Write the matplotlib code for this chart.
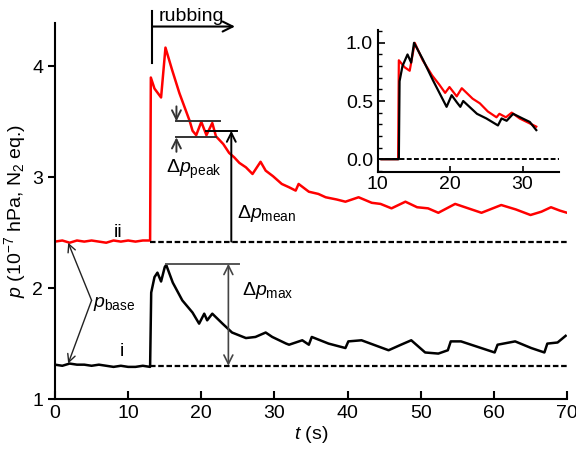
import matplotlib

matplotlib.use("Agg")
import matplotlib.pyplot as plt
from matplotlib.ticker import MultipleLocator

plt.rcParams["font.family"] = ["Liberation Sans", "DejaVu Sans"]
plt.rcParams["mathtext.fontset"] = "custom"
plt.rcParams["mathtext.rm"] = "Liberation Sans"
plt.rcParams["mathtext.it"] = "Liberation Sans:italic"

# curve ii (red), main panel
t_ii = [0, 1, 2, 3, 4, 5, 6, 7, 8, 9, 10, 11, 12, 13.0,
        13.1, 13.6, 14.5, 15.1, 16.0, 17.0, 18.4, 18.8, 19.3, 20.0, 20.7,
        21.5, 22.0, 23.0, 23.8, 24.5, 25.2, 26.1, 27.0, 28.1, 28.8, 29.8,
        31.0, 32.0, 32.9, 33.3, 34.7, 36.0, 37.0, 38.5, 39.7, 41.5, 43.3,
        44.5, 46.0, 47.9, 49.5, 51.0, 52.4, 54.7, 56.5, 58.3, 61.0, 63.0,
        65.0, 66.5, 67.8, 69.0, 70.0]
p_ii = [2.42, 2.43, 2.41, 2.43, 2.42, 2.43, 2.42, 2.41, 2.43, 2.42, 2.43, 2.42, 2.43, 2.43,
        3.90, 3.80, 3.72, 4.17, 3.97, 3.76, 3.51, 3.42, 3.38, 3.50, 3.38,
        3.49, 3.37, 3.30, 3.22, 3.18, 3.13, 3.09, 3.03, 3.14, 3.06, 3.01,
        2.94, 2.91, 2.88, 2.94, 2.87, 2.85, 2.82, 2.80, 2.78, 2.82, 2.77,
        2.76, 2.72, 2.78, 2.73, 2.72, 2.68, 2.76, 2.72, 2.68, 2.75, 2.71,
        2.66, 2.69, 2.73, 2.70, 2.68]

# curve i (black), main panel
t_i = [0, 1, 2, 3, 4, 5, 6, 7, 8, 9, 10, 11, 12, 13.0,
       13.15, 13.6, 14.0, 14.5, 15.0, 15.2, 16.1, 17.4, 18.8, 19.7, 20.4,
       20.8, 21.5, 22.9, 24.2, 26.1, 27.4, 28.8, 29.7, 31.6, 32.0, 33.8,
       34.7, 35.1, 37.4, 39.7, 40.1, 41.9, 45.6, 47.3, 48.7, 50.6, 52.4,
       53.7, 54.1, 55.5, 57.8, 60.1, 60.5, 62.9, 65.1, 66.9, 67.3, 68.7, 69.8]
p_i = [1.31, 1.30, 1.32, 1.31, 1.31, 1.30, 1.31, 1.30, 1.29, 1.30, 1.29, 1.29, 1.30, 1.29,
       1.96, 2.10, 2.14, 2.06, 2.19, 2.21, 2.05, 1.89, 1.78, 1.68, 1.77,
       1.71, 1.77, 1.68, 1.60, 1.55, 1.56, 1.60, 1.56, 1.50, 1.49, 1.53,
       1.49, 1.56, 1.50, 1.46, 1.52, 1.53, 1.44, 1.49, 1.53, 1.42, 1.41,
       1.44, 1.52, 1.52, 1.47, 1.42, 1.49, 1.52, 1.46, 1.42, 1.50, 1.51, 1.57]

base_ii = 2.42
base_i = 1.30

# normalised curves, inset
tn_ii = [10.5, 12.8, 12.9, 13.7, 14.4, 15.1, 16.2, 17.5, 18.5, 19.3, 19.9, 20.9,
         21.6, 23.1, 24.1, 25.2, 26.4, 26.8, 27.7, 28.5, 29.6, 31.9]
rn_ii = [0.0, 0.0, 0.85, 0.79, 0.76, 1.0, 0.85, 0.72, 0.64, 0.57, 0.62, 0.54,
         0.61, 0.52, 0.48, 0.41, 0.36, 0.39, 0.36, 0.40, 0.35, 0.28]
tn_i = [10.5, 12.9, 13.0, 13.4, 14.1, 14.6, 15.0, 16.2, 17.6, 19.5, 20.2, 20.9,
        21.4, 21.8, 23.7, 25.0, 26.6, 27.1, 27.8, 28.7, 30.0, 31.0, 31.9]
rn_i = [0.0, 0.0, 0.67, 0.80, 0.90, 0.83, 1.0, 0.86, 0.68, 0.45, 0.55, 0.49,
        0.45, 0.50, 0.39, 0.35, 0.29, 0.35, 0.33, 0.39, 0.35, 0.32, 0.25]

fs = 14

fig = plt.figure(figsize=(5.76, 4.55), dpi=100)
ax = fig.add_axes([0.0955, 0.123, 0.889, 0.826])

ax.plot(t_ii, p_ii, color="#ff0000", lw=1.8)
ax.plot(t_i, p_i, color="black", lw=1.8)
ax.plot([13, 70], [base_ii, base_ii], color="black", lw=1.6, ls=(0, (2.5, 1.2)))
ax.plot([13, 70], [base_i, base_i], color="black", lw=1.6, ls=(0, (2.5, 1.2)))

ax.set_xlim(0, 70)
ax.set_ylim(1, 4.39)
ax.set_xticks([0, 10, 20, 30, 40, 50, 60, 70])
ax.set_yticks([1, 2, 3, 4])
for s in ["top", "right"]:
    ax.spines[s].set_visible(False)
for s in ["left", "bottom"]:
    ax.spines[s].set_linewidth(1.5)
ax.tick_params(axis="x", direction="in", length=6, width=1.5, labelsize=fs, pad=4)
ax.tick_params(axis="y", direction="out", length=5, width=1.5, labelsize=fs)
ax.set_xlabel(r"$t$ (s)", fontsize=fs, labelpad=2)
ax.set_ylabel(r"$p$ (10$^{-7}$ hPa, N$_2$ eq.)", fontsize=fs, labelpad=3)

# rubbing marker
ax.plot([13.3, 13.3], [4.03, 4.50], color="black", lw=1.5, clip_on=False)
ax.annotate("", xy=(24.6, 4.36), xytext=(13.3, 4.36), annotation_clip=False,
            arrowprops=dict(arrowstyle="->", lw=1.5, color="black",
                            shrinkA=0, shrinkB=0, mutation_scale=18))
ax.text(18.7, 4.45, "rubbing", fontsize=fs, ha="center", va="center", clip_on=False)

# delta p peak
gc = "#333333"
ax.plot([16.6, 22.5], [3.505, 3.505], color=gc, lw=1.4)
ax.plot([16.6, 22.0], [3.36, 3.36], color=gc, lw=1.4)
arr = dict(arrowstyle="->", lw=1.4, color=gc, shrinkA=0, shrinkB=0, mutation_scale=16)
ax.annotate("", xy=(16.6, 3.505), xytext=(16.6, 3.64), arrowprops=arr)
ax.annotate("", xy=(16.6, 3.36), xytext=(16.6, 3.23), arrowprops=arr)
ax.text(15.2, 3.07, r"$\Delta p_{\rm peak}$", fontsize=fs, va="center")

# delta p mean
ax.plot([20.7, 24.9], [3.42, 3.42], color="black", lw=1.4)
ax.annotate("", xy=(24.1, 3.42), xytext=(24.1, base_ii),
            arrowprops=dict(arrowstyle="->", lw=1.4, color="black",
                            shrinkA=0, shrinkB=0, mutation_scale=16))
ax.text(24.9, 2.67, r"$\Delta p_{\rm mean}$", fontsize=fs, va="center")

# delta p max
ax.plot([15.2, 25.1], [2.22, 2.22], color="#555555", lw=1.4)
ax.annotate("", xy=(23.7, 2.22), xytext=(23.7, base_i),
            arrowprops=dict(arrowstyle="<->", lw=1.2, color="#444444",
                            shrinkA=0, shrinkB=0, mutation_scale=16))
ax.text(25.6, 1.98, r"$\Delta p_{\rm max}$", fontsize=fs, va="center")

# p base
arr2 = dict(arrowstyle="->", lw=1.0, color="#222222", shrinkA=0, shrinkB=0, mutation_scale=14)
ax.annotate("", xy=(1.8, 2.41), xytext=(5.0, 1.89), arrowprops=arr2)
ax.annotate("", xy=(1.8, 1.32), xytext=(5.0, 1.89), arrowprops=arr2)
ax.text(5.2, 1.86, r"$p_{\rm base}$", fontsize=fs, va="center")

ax.text(8.6, 2.50, "ii", fontsize=fs, ha="center", va="center")
ax.text(9.1, 1.43, "i", fontsize=fs, ha="center", va="center")

# inset
ins = fig.add_axes([0.656, 0.622, 0.314, 0.312])
ins.plot(tn_ii, rn_ii, color="#ff0000", lw=1.6)
ins.plot(tn_i, rn_i, color="black", lw=1.6)
ins.plot([10, 35], [0, 0], color="black", lw=1.4, ls=(0, (2.5, 1.2)))
ins.set_xlim(10, 35)
ins.set_ylim(-0.11, 1.11)
ins.set_xticks([10, 20, 30])
ins.set_yticks([0.0, 0.5, 1.0])
ins.set_yticklabels(["0.0", "0.5", "1.0"])
ins.yaxis.set_minor_locator(MultipleLocator(0.1))
for s in ["top", "right"]:
    ins.spines[s].set_visible(False)
for s in ["left", "bottom"]:
    ins.spines[s].set_linewidth(1.5)
ins.tick_params(axis="x", direction="in", length=4, width=1.2, labelsize=fs, pad=3)
ins.tick_params(axis="y", which="major", direction="in", length=5, width=1.2, labelsize=fs)
ins.tick_params(axis="y", which="minor", direction="in", length=3, width=1.0)
ins.patch.set_alpha(0)

fig.savefig("out.png", dpi=100)
